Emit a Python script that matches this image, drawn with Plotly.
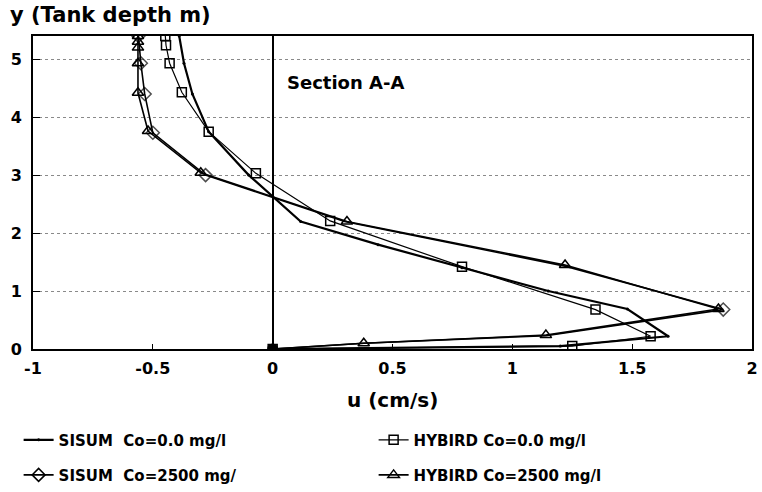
import plotly.graph_objects as go

# ---- data (u in cm/s, y in m) ----
sisum0_u = [0.0, 1.20, 1.65, 1.48, 1.15, 0.79, 0.44, 0.117, -0.10, -0.267, -0.335, -0.37, -0.39]
sisum0_y = [0.0, 0.05, 0.22, 0.69, 1.00, 1.40, 1.80, 2.20, 3.00, 3.75, 4.40, 4.93, 5.40]

sisum2500_u = [0.0, 0.38, 1.14, 1.88, 1.22, 0.30, -0.28, -0.50, -0.534, -0.55, -0.56]
sisum2500_y = [0.0, 0.10, 0.23, 0.68, 1.43, 2.20, 3.00, 3.73, 4.40, 4.93, 5.40]

hybird0_u = [0.0, 1.25, 1.577, 1.347, 0.79, 0.24, -0.07, -0.267, -0.379, -0.43, -0.445, -0.448]
hybird0_y = [0.0, 0.05, 0.22, 0.68, 1.42, 2.21, 3.03, 3.75, 4.43, 4.93, 5.24, 5.40]

hybird2500_u = [0.0, 0.38, 1.14, 1.86, 1.22, 0.31, -0.30, -0.52, -0.562, -0.562, -0.562, -0.562, -0.562]
hybird2500_y = [0.0, 0.10, 0.24, 0.69, 1.45, 2.20, 3.04, 3.76, 4.42, 4.93, 5.20, 5.30, 5.40]

x_ticks = [-1, -0.5, 0, 0.5, 1, 1.5, 2]
x_tick_labels = ["-1", "-0.5", "0", "0.5", "1", "1.5", "2"]
y_ticks = [0, 1, 2, 3, 4, 5]
y_tick_labels = ["0", "1", "2", "3", "4", "5"]

FONT = "DejaVu Sans, Verdana, sans-serif"

# diamonds are hidden where the triangles of the other 2500 run cover them
diamond_sizes = [0, 0, 0, 10, 0, 0, 10, 10, 10, 10, 10]

diamond_marker = dict(symbol="diamond-open", size=10, color="black", line=dict(width=1.5, color="black"))

fig = go.Figure()

fig.add_trace(go.Scatter(
    x=sisum0_u, y=sisum0_y, mode="lines+markers",
    name="SISUM\u00a0\u00a0Co=0.0 mg/l",
    line=dict(color="black", width=2.2),
    marker=dict(symbol="circle", size=3, color="black"),
    legend="legend"))
fig.add_trace(go.Scatter(
    x=hybird0_u, y=hybird0_y, mode="lines+markers",
    name="HYBIRD Co=0.0 mg/l",
    line=dict(color="black", width=1.2),
    marker=dict(symbol="square-open", size=9, color="black", line=dict(width=1.5, color="black")),
    legend="legend"))
fig.add_trace(go.Scatter(
    x=sisum2500_u, y=sisum2500_y, mode="lines+markers",
    name="SISUM\u00a0\u00a0Co=2500 mg/", showlegend=False,
    line=dict(color="black", width=1.6),
    marker=dict(diamond_marker, size=diamond_sizes)))
# legend entry for the SISUM 2500 run
fig.add_trace(go.Scatter(
    x=[None], y=[None], mode="lines+markers",
    name="SISUM\u00a0\u00a0Co=2500 mg/",
    line=dict(color="black", width=1.6),
    marker=diamond_marker,
    legend="legend2"))
fig.add_trace(go.Scatter(
    x=hybird2500_u, y=hybird2500_y, mode="lines+markers",
    name="HYBIRD Co=2500 mg/l",
    line=dict(color="black", width=1.6),
    marker=dict(symbol="triangle-up-open", size=10, color="black", line=dict(width=1.5, color="black")),
    legend="legend2"))

# filled dot at origin
fig.add_trace(go.Scatter(x=[0], y=[0], mode="markers", showlegend=False,
                         marker=dict(symbol="circle", size=11, color="black")))

legend_font = dict(size=15, family=FONT, weight=700)

fig.update_layout(
    width=762, height=492,
    margin=dict(l=33, r=10, t=36, b=143, autoexpand=False),
    paper_bgcolor="white", plot_bgcolor="white",
    font=dict(family=FONT, color="black", size=15, weight=700),
    xaxis=dict(
        range=[-1, 2], tickvals=x_ticks, ticktext=x_tick_labels,
        showgrid=False, zeroline=True, zerolinecolor="black", zerolinewidth=1.6,
        showline=True, linecolor="black", linewidth=2, mirror=True,
        ticks="inside", ticklen=5, tickcolor="black",
        tickfont=dict(size=16, family=FONT, weight=700),
        ticklabelstandoff=4,
    ),
    yaxis=dict(
        range=[0, 5.4], tickvals=y_ticks, ticktext=y_tick_labels,
        showgrid=True, gridcolor="#8a8a8a", griddash="dot", gridwidth=1,
        zeroline=False,
        showline=True, linecolor="black", linewidth=2, mirror=True,
        ticks="inside", ticklen=7, tickcolor="black",
        tickfont=dict(size=16, family=FONT, weight=700),
        ticklabelstandoff=6,
    ),
    legend=dict(orientation="h", x=-0.02, xanchor="left", y=-0.291, yanchor="middle",
                entrywidth=310, entrywidthmode="pixels",
                font=legend_font, bgcolor="rgba(0,0,0,0)"),
    legend2=dict(orientation="h", x=-0.02, xanchor="left", y=-0.403, yanchor="middle",
                 entrywidth=310, entrywidthmode="pixels",
                 font=legend_font, bgcolor="rgba(0,0,0,0)"),
    annotations=[
        dict(text="y (Tank depth m)", xref="paper", yref="paper", x=-0.035, y=1.067,
             xanchor="left", yanchor="middle", showarrow=False,
             font=dict(size=21, family=FONT, weight=700)),
        dict(text="Section A-A", xref="x", yref="y", x=0.05, y=4.6,
             xanchor="left", yanchor="middle", showarrow=False,
             font=dict(size=18, family=FONT, weight=700)),
        dict(text="u (cm/s)", xref="x", yref="paper", x=0.5, y=-0.163,
             xanchor="center", yanchor="middle", showarrow=False,
             font=dict(size=20, family=FONT, weight=700)),
    ],
)

fig.write_html("out.html")
